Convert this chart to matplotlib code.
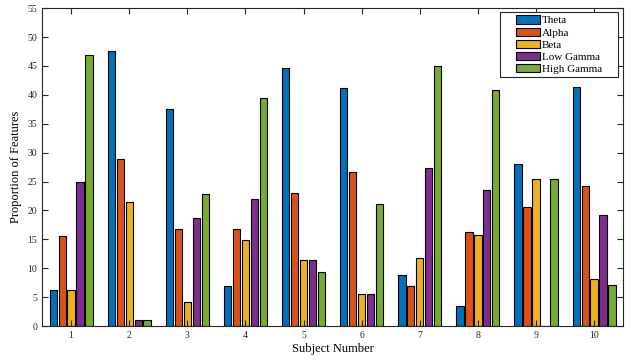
import numpy as np
import matplotlib.pyplot as plt
from matplotlib.path import Path

plt.rcParams['font.family'] = ['Liberation Serif', 'DejaVu Serif']

subjects = [1, 2, 3, 4, 5, 6, 7, 8, 9, 10]
bands = ["Theta", "Alpha", "Beta", "Low Gamma", "High Gamma"]
theta = [6.3, 47.6, 37.5, 7.0, 44.6, 41.2, 8.8, 3.4, 28.1, 41.3]
alpha = [15.6, 28.9, 16.7, 16.7, 23.0, 26.6, 6.9, 16.3, 20.6, 24.2]
beta = [6.3, 21.5, 4.2, 14.9, 11.5, 5.5, 11.8, 15.7, 25.5, 8.1]
low_gamma = [25.0, 1.0, 18.7, 21.9, 11.5, 5.5, 27.4, 23.5, 0.0, 19.2]
high_gamma = [46.9, 1.0, 22.9, 39.5, 9.3, 21.1, 45.0, 40.9, 25.5, 7.1]
colors = ["#0072BD", "#D95319", "#EDB120", "#7E2F8E", "#77AC30"]

series = [theta, alpha, beta, low_gamma, high_gamma]


# matlab style legend box: wide padding left/right, small top/bottom
def wide_box(x0, y0, width, height, mutation_size):
    px = 1.25 * mutation_size
    py = 0.1 * mutation_size
    verts = [(x0 - px, y0 - py), (x0 + width + px, y0 - py),
             (x0 + width + px, y0 + height + py), (x0 - px, y0 + height + py),
             (x0 - px, y0 - py)]
    codes = [Path.MOVETO, Path.LINETO, Path.LINETO, Path.LINETO, Path.CLOSEPOLY]
    return Path(verts, codes)


fig = plt.figure(figsize=(6.31, 3.6), dpi=100)
ax = fig.add_axes([0.0666, 0.0944, 0.921, 0.883])

x = np.array(subjects)
step = 0.154
width = 0.125
for i, (vals, name, c) in enumerate(zip(series, bands, colors)):
    ax.bar(x + (i - 2) * step, vals, width, color=c, edgecolor="black",
           linewidth=0.8, label=name)

ax.set_xlim(0.5, 10.5)
ax.set_ylim(0, 55)
ax.set_xticks(subjects)
ax.set_yticks(np.arange(0, 56, 5))
ax.tick_params(direction="in", top=True, right=True, labelsize=7,
               length=4, width=0.8, colors="#262626")
for s in ax.spines.values():
    s.set_linewidth(0.8)
    s.set_color("#262626")
ax.set_xlabel("Subject Number", fontsize=9, labelpad=2)
ax.set_ylabel("Proportion of Features", fontsize=9, labelpad=4)

leg = ax.legend(loc="upper right", fontsize=8, fancybox=False, framealpha=1,
                edgecolor="#262626", handlelength=2.15, handleheight=0.75,
                handletextpad=0.15, labelspacing=0.2, borderpad=0.2,
                borderaxespad=0, bbox_to_anchor=(0.967, 0.984))
leg.get_frame().set_linewidth(0.8)
leg.get_frame().set_boxstyle(wide_box)

fig.savefig("out.png", dpi=100)
